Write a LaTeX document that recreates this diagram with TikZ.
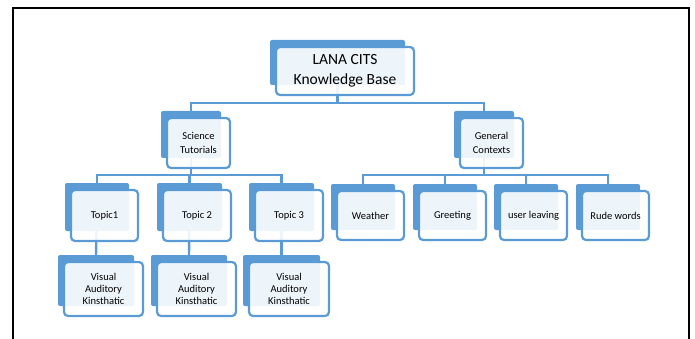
\documentclass[tikz,border=0pt]{standalone}
\usepackage{fontspec}
\setmainfont{Carlito}
\usetikzlibrary{calc}
\definecolor{kblue}{HTML}{5B9BD5}
\pgfdeclarelayer{bg}
\pgfdeclarelayer{mid}
\pgfsetlayers{bg,mid,main}
\tikzset{
  backbox/.style={fill=kblue, rounded corners=2pt, inner sep=0pt, outer sep=0pt},
  frontbox/.style={draw=kblue, line width=2.2pt, rounded corners=4pt, fill=white, fill opacity=0.9, text opacity=1, inner sep=0pt, outer sep=0pt, align=center, font=\fontsize{10.5}{12}\selectfont},
  conn/.style={draw=kblue, line width=2.4pt},
  frame/.style={draw=black, line width=2pt}
}
\newcommand\kbox[7][]{%
  \begin{pgfonlayer}{mid}
  \node[backbox, minimum width={(#5-#3-3)*1pt}, minimum height={(#6-#4-3)*1pt}] (#2b) at ({(#3+#5)/2-7.5},{(#4+#6)/2-8.5}) {};
  \end{pgfonlayer}
  \node[frontbox, minimum width={(#5-#3)*1pt}, minimum height={(#6-#4)*1pt}, #1] (#2) at ({(#3+#5)/2},{(#4+#6)/2}) {#7};
}
\begin{document}
\begin{tikzpicture}[x=1pt, y=-1pt]
\useasboundingbox (0,0) rectangle (695,339);
\draw[frame] (13,339) -- (13,8) -- (689,8) -- (689,339);
% boxes
\kbox[font=\fontsize{15.5}{20}\selectfont]{root}{276}{47}{414}{95}{LANA CITS\\Knowledge Base}
\kbox[font=\fontsize{10.5}{14}\selectfont]{sci}{167}{118}{230}{168}{Science\\Tutorials}
\kbox[font=\fontsize{10.5}{14}\selectfont]{gen}{460}{118}{523}{168}{General\\Contexts}
\kbox{ta}{71}{190}{138}{241}{Topic1}
\kbox{tb}{163}{190}{231}{241}{Topic 2}
\kbox{tc}{255}{190}{323}{241}{Topic 3}
\kbox{w}{337}{191}{404}{240}{Weather}
\kbox{g}{419}{191}{486}{240}{Greeting}
\kbox{u}{500}{191}{567}{240}{user leaving}
\kbox{r}{582}{191}{649}{240}{Rude words}
\kbox{va}{64}{262}{143}{316}{Visual\\Auditory\\Kinsthatic}
\kbox{vb}{157}{262}{236}{316}{Visual\\Auditory\\Kinsthatic}
\kbox{vc}{249}{262}{329}{316}{Visual\\Auditory\\Kinsthatic}
% connectors
\coordinate (bus0) at (0,103);
\coordinate (bus1) at (0,175);
\begin{pgfonlayer}{bg}
\draw[conn] (rootb.center) -- (rootb.center |- bus0) -| (scib.north);
\draw[conn] (rootb.center |- bus0) -| (genb.north);
\draw[conn] (scib.center) -- (scib.center |- bus1) -| (tab.north);
\draw[conn] (scib.center |- bus1) -| (tbb.north);
\draw[conn] (scib.center |- bus1) -| (tcb.north);
\draw[conn] (genb.center) -- (genb.center |- bus1) -| (wb.north);
\draw[conn] (genb.center |- bus1) -| (gb.north);
\draw[conn] (genb.center |- bus1) -| (ub.north);
\draw[conn] (genb.center |- bus1) -| (rb.north);
\draw[conn] (tab.center) -- (vab.north);
\draw[conn] (tbb.center) -- (vbb.north);
\draw[conn] (tcb.center) -- (vcb.north);
\end{pgfonlayer}
\end{tikzpicture}
\end{document}
